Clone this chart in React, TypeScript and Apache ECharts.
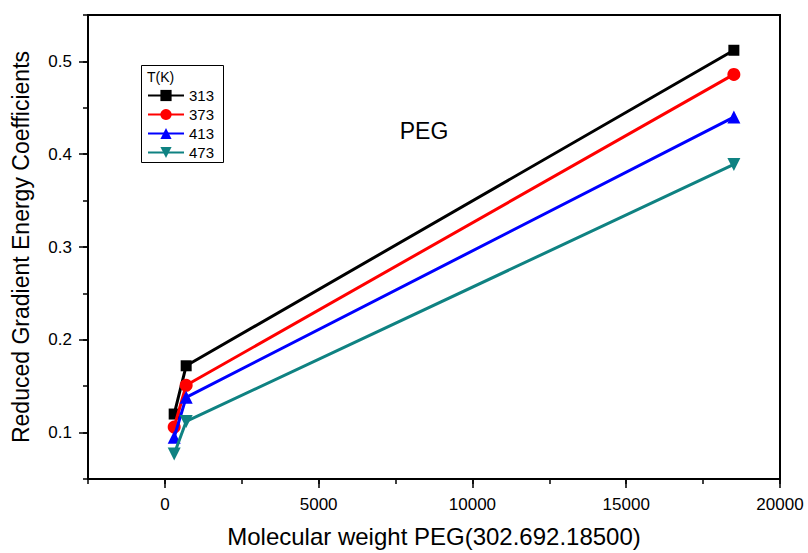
import React, { useEffect, useRef } from "react";
import * as echarts from "echarts";

const xValues = [302, 692, 18500];
const seriesNames = ["313", "373", "413", "473"];
const s313 = [0.12, 0.172, 0.512];
const s373 = [0.106, 0.151, 0.486];
const s413 = [0.095, 0.138, 0.44];
const s473 = [0.077, 0.112, 0.389];
const xMajorTicks = [0, 5000, 10000, 15000, 20000];
const yMajorTicks = [0.1, 0.2, 0.3, 0.4, 0.5];

const FONT = "Liberation Sans, Arial, Helvetica, sans-serif";

export default function App() {
  const ref = useRef<HTMLDivElement>(null);
  useEffect(() => {
    if (!ref.current) return;
    const chart = echarts.init(ref.current, undefined, { renderer: "svg" });
    const colors = ["#000000", "#ff0000", "#0000ff", "#0f8282"];
    const symbols = ["rect", "circle", "triangle", "triangle"];
    const sizes = [11, 13, 13, 13];
    const rotates = [0, 0, 0, 180];
    const all = [s313, s373, s413, s473];
    const series = all.map((vals, i) => ({
      name: seriesNames[i],
      type: "line",
      xAxisIndex: 0,
      yAxisIndex: 0,
      data: vals.map((v, j) => [xValues[j], v]),
      symbol: symbols[i],
      symbolSize: sizes[i],
      symbolRotate: rotates[i],
      showAllSymbol: true,
      lineStyle: { color: colors[i], width: 3 },
      itemStyle: { color: colors[i] },
      z: 2 + i,
    }));
    chart.setOption({
      animation: false,
      textStyle: { fontFamily: FONT },
      grid: {
        left: 88,
        right: 28,
        top: 15,
        bottom: 71,
        show: true,
        borderColor: "#000",
        borderWidth: 2,
        backgroundColor: "transparent",
      },
      legend: {
        orient: "vertical",
        left: 147,
        top: 88,
        padding: 0,
        itemWidth: 36,
        itemHeight: 14,
        itemGap: 4,
        data: seriesNames,
        textStyle: { fontSize: 15, color: "#000", fontFamily: FONT },
      },
      graphic: [
        {
          type: "rect",
          left: 139,
          top: 63,
          shape: { width: 82, height: 97 },
          style: { fill: "none", stroke: "#000", lineWidth: 1 },
          z: 10,
        },
        {
          type: "text",
          left: 147,
          top: 70,
          style: { text: "T(K)", fontSize: 14, fontFamily: FONT, fill: "#000000" },
          z: 10,
        },
        {
          type: "text",
          x: 424,
          y: 131,
          style: {
            text: "PEG",
            fontSize: 23,
            fontFamily: FONT,
            fill: "#000000",
            textAlign: "center",
            textVerticalAlign: "middle",
          },
          z: 10,
        },
      ],
      xAxis: [
        {
          type: "value",
          min: -2500,
          max: 20000,
          interval: 2500,
          position: "bottom",
          name: "Molecular weight PEG(302.692.18500)",
          nameLocation: "middle",
          nameGap: 45,
          nameTextStyle: { fontSize: 24, color: "#000", fontFamily: FONT },
          axisLine: { show: true, onZero: false, lineStyle: { color: "#000", width: 2 } },
          axisTick: {
            show: true,
            length: 9,
            customValues: xMajorTicks,
            lineStyle: { color: "#000", width: 1.5 },
          },
          axisLabel: {
            customValues: xMajorTicks,
            formatter: (v: number) => String(Math.round(v)),
            fontSize: 17,
            color: "#000",
            margin: 17,
            fontFamily: FONT,
          },
          splitLine: { show: false },
        },
        {
          type: "value",
          min: -2500,
          max: 20000,
          interval: 2500,
          position: "bottom",
          axisLine: { show: false, onZero: false },
          axisTick: { show: true, length: 5, lineStyle: { color: "#000", width: 1.5 } },
          axisLabel: { show: false },
          splitLine: { show: false },
        },
      ],
      yAxis: [
        {
          type: "value",
          min: 0.05,
          max: 0.55,
          interval: 0.05,
          position: "left",
          name: "Reduced Gradient Energy Coefficients",
          nameLocation: "middle",
          nameGap: 56,
          nameTextStyle: { fontSize: 23, color: "#000", fontFamily: FONT },
          axisLine: { show: true, onZero: false, lineStyle: { color: "#000", width: 2 } },
          axisTick: {
            show: true,
            length: 9,
            customValues: yMajorTicks,
            lineStyle: { color: "#000", width: 1.5 },
          },
          axisLabel: {
            customValues: yMajorTicks,
            formatter: (v: number) => v.toFixed(1),
            fontSize: 17,
            color: "#000",
            margin: 16,
            fontFamily: FONT,
          },
          splitLine: { show: false },
        },
        {
          type: "value",
          min: 0.05,
          max: 0.55,
          interval: 0.05,
          position: "left",
          axisLine: { show: false, onZero: false },
          axisTick: { show: true, length: 5, lineStyle: { color: "#000", width: 1.5 } },
          axisLabel: { show: false },
          splitLine: { show: false },
        },
      ],
      series,
    });
    return () => chart.dispose();
  }, []);
  return (
    <div
      ref={ref}
      style={{ position: "fixed", left: 0, top: 0, width: 808, height: 553, background: "#fff" }}
    />
  );
}
